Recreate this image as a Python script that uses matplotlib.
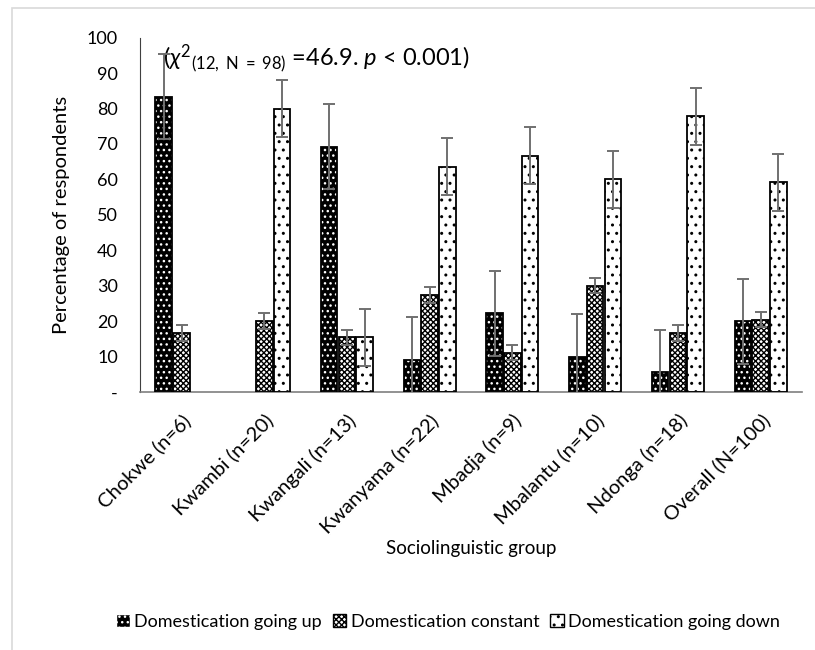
import matplotlib
matplotlib.use("Agg")
from matplotlib import pyplot as plt
from matplotlib.patches import Patch, Rectangle
import numpy as np

plt.rcParams['font.family'] = ['Lato', 'DejaVu Sans']
plt.rcParams['mathtext.fontset'] = 'custom'
plt.rcParams['mathtext.rm'] = 'Lato'
plt.rcParams['mathtext.it'] = 'Lato:italic'
plt.rcParams['hatch.linewidth'] = 1.0

groups = ['Chokwe (n=6)', 'Kwambi (n=20)', 'Kwangali (n=13)', 'Kwanyama (n=22)',
          'Mbadja (n=9)', 'Mbalantu (n=10)', 'Ndonga (n=18)', 'Overall (N=100)']
going_up = [83.3, 0, 69.2, 9.1, 22.2, 10.0, 5.6, 20.0]
constant = [16.7, 20.0, 15.4, 27.3, 11.1, 30.0, 16.7, 20.4]
going_down = [0, 80.0, 15.4, 63.6, 66.7, 60.0, 77.8, 59.2]
err_up = [12, 12, 12, 12, 12, 12, 12, 12]
err_constant = [2.2, 2.2, 2.2, 2.2, 2.2, 2.2, 2.2, 2.2]
err_down = [8, 8, 8, 8, 8, 8, 8, 8]
series_names = ['Domestication going up', 'Domestication constant', 'Domestication going down']

fig = plt.figure(figsize=(8.15, 6.5), dpi=100)
ax = fig.add_axes([0.172, 0.397, 0.812, 0.545])

# light chart-area border (Excel style)
fig.patches.append(Rectangle((12 / 815, -0.1), 1.2, 1 - 8 / 650 + 0.1, transform=fig.transFigure,
                             fill=False, edgecolor='#d9d9d9', linewidth=1.2))

x = np.arange(len(groups))
w = 0.2
gap = 0.215
styles = [
    dict(facecolor='black', hatchcol='white', hatch='...'),
    dict(facecolor='white', hatchcol='black', hatch='xxxxxx'),
    dict(facecolor='white', hatchcol='black', hatch='..'),
]
all_vals = [going_up, constant, going_down]
all_errs = [err_up, err_constant, err_down]

for i, (vals, errs, st) in enumerate(zip(all_vals, all_errs, styles)):
    vals = np.array(vals)
    keep = vals > 0
    pos = (x + (i - 1) * gap)[keep]
    v = vals[keep]
    # pattern layer
    ax.bar(pos, v, w, color=st['facecolor'], edgecolor=st['hatchcol'],
           hatch=st['hatch'], linewidth=0, zorder=2)
    # outline layer
    ax.bar(pos, v, w, fill=False, edgecolor='black', linewidth=1.3, zorder=3)
    ax.errorbar(pos, v, yerr=np.array(errs)[keep], fmt='none',
                ecolor='#707070', elinewidth=1.4, capsize=4.5, capthick=1.4, zorder=4)

ax.set_xlim(-0.5, len(groups) - 0.5)
ax.set_ylim(0, 100)
ax.set_yticks(range(0, 101, 10))
ax.set_yticklabels(['-'] + [str(v) for v in range(10, 101, 10)], fontsize=13)
ax.set_xticks(x)
ax.set_xticklabels(groups, rotation=45, ha='right', rotation_mode='anchor', fontsize=14.5)
ax.tick_params(axis='x', length=0, pad=14)
ax.tick_params(axis='y', length=0, pad=16)

for s in ['top', 'right']:
    ax.spines[s].set_visible(False)
ax.spines['left'].set_color('#404040')
ax.spines['bottom'].set_color('#7f7f7f')
ax.spines['bottom'].set_linewidth(1.2)

ax.set_ylabel('Percentage of respondents', fontsize=14.5, labelpad=12)
ax.set_xlabel('Sociolinguistic group', fontsize=13.5)
ax.xaxis.set_label_coords(0.5, -0.418)

ax.text(0.035, 0.985, r'($\chi^2$$_{\rm (12,\ N\ =\ 98)}$ =46.9. $p$ < 0.001)',
        transform=ax.transAxes, fontsize=17, va='top', ha='left')

handles = [Patch(facecolor=st['facecolor'], edgecolor=st['hatchcol'] if i == 0 else 'black',
                 hatch=st['hatch'], linewidth=1.0)
           for i, st in enumerate(styles)]
fig.legend(handles, series_names, loc='center', bbox_to_anchor=(0.55, 0.043), ncol=3,
           frameon=False, fontsize=13, handlelength=0.75, handleheight=0.75,
           handletextpad=0.25, columnspacing=0.6)

fig.savefig('out.png', dpi=100)
